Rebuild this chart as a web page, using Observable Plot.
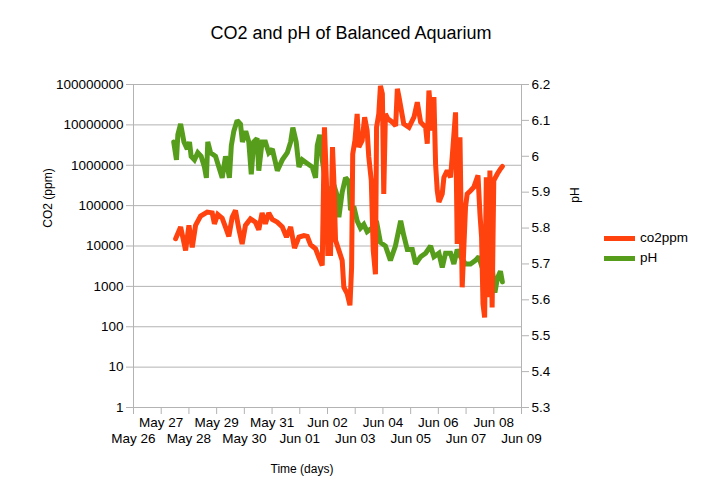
<!DOCTYPE html>
<html>
<head>
<meta charset="utf-8">
<script src="https://cdn.jsdelivr.net/npm/d3@7"></script>
<script src="https://cdn.jsdelivr.net/npm/@observablehq/plot@0.6"></script>
<style>
  html, body { margin: 0; padding: 0; background: #fff; }
  #wrap { position: relative; width: 702px; height: 496px; font-family: "Liberation Sans", Arial, sans-serif; color: #000; }
  .ov { position: absolute; white-space: nowrap; line-height: 1; }
  #chart { position: absolute; left: 0; top: 0; }
</style>
</head>
<body>
<div id="wrap">
  <div id="chart"></div>
  <div class="ov" id="title" style="left:0;width:702px;top:24px;text-align:center;font-size:18px;">CO2 and pH of Balanced Aquarium</div>
  <div class="ov" id="ylabel" style="left:48px;top:198px;font-size:12px;transform:translate(-50%,-50%) rotate(-90deg);">CO2 (ppm)</div>
  <div class="ov" id="y2label" style="left:575px;top:195px;font-size:12px;transform:translate(-50%,-50%) rotate(-90deg);">pH</div>
  <div class="ov" id="xlabel" style="left:302px;top:463px;font-size:12px;transform:translateX(-50%);">Time (days)</div>
  <div id="legend"></div>
</div>
<script>
// ---- data ----
const seriesNames = ["co2ppm", "pH"];
const seriesColors = ["#ff420e", "#579d1c"];

// time in days after May 26
const co2Days = [1.52,1.70,1.88,2.00,2.12,2.24,2.42,2.66,2.84,2.92,3.04,3.20,3.32,3.44,3.56,3.68,3.80,3.92,4.04,4.22,
  4.40,4.52,4.64,4.76,4.88,5.01,5.19,5.37,5.52,5.67,5.81,5.97,6.15,6.27,6.39,6.57,6.69,6.81,
  6.89,6.96,7.01,7.11,7.18,7.23,7.29,7.41,
  7.53,7.59,7.71,7.81,7.87,7.91,7.99,8.07,8.13,8.25,8.34,8.43,8.49,8.58,8.65,8.73,8.77,8.85,8.91,8.98,
  9.03,9.09,9.18,9.34,9.46,9.52,9.58,9.75,9.94,10.12,10.24,10.36,10.54,10.60,10.66,10.78,10.84,10.90,10.96,11.02,
  11.14,11.20,11.32,11.44,11.50,11.62,11.68,11.78,11.86,11.92,11.98,12.04,12.16,12.28,12.43,12.50,12.56,12.61,12.67,12.73,
  12.80,12.86,12.94,13.00,13.13,13.24,13.31];
const co2Values = [15100,29500,7800,32400,9300,32400,55000,69200,66100,35500,60300,49000,29500,17400,51300,75900,26900,11200,32400,46800,
  38900,25100,66100,35500,66100,45700,38900,29500,16600,29500,8900,16600,18200,17400,10700,8500,5200,3300,
  8700000,417000,6500,6500,2820000,417000,13800,7800,
  4400,950,660,340,3000,1900000,4100000,18600000,2820000,4100000,15500000,7200000,1600000,417000,7800,2000,8700000,18600000,93000000,59000000,
  195000,18600000,14100000,11700000,9500000,78000000,49000000,10700000,8700000,15500000,36300000,11700000,8700000,3400000,71000000,7200000,49000000,1070000,234000,123000,
  195000,500000,741000,500000,1600000,20400000,11200,4900000,950,9300,91000,195000,234000,288000,562000,63100,16600,370,170,500000,
  540,741000,300,417000,617000,813000,933000];

const phDays = [1.45,1.55,1.60,1.70,1.82,1.94,2.02,2.08,2.20,2.32,2.44,2.56,2.63,2.68,2.78,2.96,3.08,3.20,3.32,3.46,
  3.53,3.62,3.74,3.86,3.93,4.05,4.16,4.25,4.34,4.46,4.52,4.64,4.76,4.88,5.01,5.19,5.37,5.55,5.67,5.75,
  5.87,5.97,6.09,6.27,6.45,6.57,6.63,6.72,6.81,6.93,
  7.05,7.11,7.23,7.35,7.41,7.53,7.65,7.77,7.83,7.95,8.07,8.19,8.31,8.43,8.61,8.79,8.91,
  9.09,9.27,9.45,9.64,9.75,9.88,10.06,10.18,10.36,10.54,10.72,10.84,11.02,11.14,11.26,11.44,11.56,11.68,11.80,11.98,
  12.16,12.34,12.46,12.58,12.76,12.94,13.04,13.13,13.24,13.31];
const phValues = [6.04,5.99,6.06,6.09,6.04,6.02,6.04,6.00,5.99,6.01,6.00,5.97,5.94,6.04,6.01,6.00,5.97,5.94,6.00,5.94,
  6.03,6.07,6.10,6.09,6.04,6.07,6.04,5.95,6.04,6.05,5.96,6.04,6.04,6.01,6.02,5.96,5.99,6.01,6.04,6.08,
  6.04,5.97,5.99,5.98,5.97,5.94,6.03,6.06,5.99,5.93,
  5.88,5.91,5.92,5.89,5.83,5.90,5.94,5.93,5.85,5.86,5.82,5.80,5.81,5.79,5.80,5.81,5.76,
  5.75,5.71,5.75,5.82,5.78,5.74,5.74,5.70,5.72,5.73,5.75,5.72,5.73,5.69,5.73,5.73,5.70,5.74,5.72,5.70,
  5.70,5.71,5.72,5.69,5.71,5.69,5.62,5.66,5.68,5.65];

const co2Ticks = [1,10,100,1000,10000,100000,1000000,10000000,100000000];
const phTicks = [5.3,5.4,5.5,5.6,5.7,5.8,5.9,6.0,6.1,6.2];
const dayTicks = [0,1,2,3,4,5,6,7,8,9,10,11,12,13,14];

// ---- helpers ----
const DAY0 = Date.UTC(2012, 4, 26);
const toDate = d => new Date(DAY0 + d * 864e5);
const PH_MIN = 5.3, PH_MAX = 6.2, LOG_MAX = 8;
const phToY = p => Math.pow(10, (p - PH_MIN) / (PH_MAX - PH_MIN) * LOG_MAX);

const co2Data = co2Days.map((d, i) => ({t: toDate(d), v: co2Values[i]}));
const phData = phDays.map((d, i) => ({t: toDate(d), v: phToY(phValues[i])}));

const fmtDay = d3.utcFormat("%b %d");
const upperDays = dayTicks.filter(d => d % 2 === 1).map(toDate);
const lowerDays = dayTicks.filter(d => d % 2 === 0).map(toDate);
const GRAY = "#b3b3b3";

const chart = Plot.plot({
  width: 702,
  height: 496,
  marginLeft: 133,
  marginRight: 181,
  marginTop: 84,
  marginBottom: 89,
  style: {fontFamily: '"Liberation Sans", Arial, sans-serif', fontSize: "13.5px", color: "#000", background: "transparent"},
  x: {type: "utc", domain: [toDate(0), toDate(14)]},
  y: {type: "log", domain: [1, 1e8]},
  marks: [
    Plot.gridY(co2Ticks, {stroke: GRAY, strokeOpacity: 1}),
    Plot.frame({stroke: GRAY}),
    Plot.axisY({anchor: "left", ticks: co2Ticks, tickFormat: d3.format("d"), tickSize: 7, tickPadding: 3, stroke: GRAY, fill: "#000", label: null}),
    Plot.axisY({anchor: "right", ticks: phTicks.map(phToY), tickFormat: () => "", tickSize: 7, stroke: GRAY, label: null}),
    Plot.text(phTicks, {y: phToY, text: p => String(+p.toFixed(1)), frameAnchor: "right", dx: 10, textAnchor: "start", fill: "#000"}),
    Plot.axisX({ticks: upperDays, tickFormat: fmtDay, tickSize: 7, tickPadding: 3, stroke: GRAY, fill: "#000", label: null}),
    Plot.axisX({ticks: lowerDays, tickFormat: fmtDay, tickSize: 7, tickPadding: 19, stroke: GRAY, fill: "#000", label: null}),
    Plot.line(phData, {x: "t", y: "v", stroke: seriesColors[1], strokeWidth: 5, strokeLinejoin: "miter", strokeMiterlimit: 2}),
    Plot.line(co2Data, {x: "t", y: "v", stroke: seriesColors[0], strokeWidth: 5, strokeLinejoin: "miter", strokeMiterlimit: 2})
  ]
});
document.getElementById("chart").appendChild(chart);

// legend
const legend = document.getElementById("legend");
seriesNames.forEach((name, i) => {
  const top = 238 + i * 20;
  const sw = document.createElement("div");
  sw.style.cssText = `position:absolute;left:604px;top:${top - 2.5}px;width:31px;height:5px;background:${seriesColors[i]};`;
  const lb = document.createElement("div");
  lb.className = "ov";
  lb.style.cssText = `left:640px;top:${top}px;font-size:13.5px;transform:translateY(-50%);`;
  lb.textContent = name;
  legend.appendChild(sw);
  legend.appendChild(lb);
});
</script>
</body>
</html>
